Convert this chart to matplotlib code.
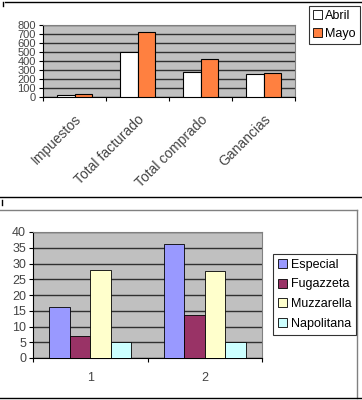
import numpy as np
import matplotlib
matplotlib.use("Agg")
import matplotlib.pyplot as plt
from matplotlib.lines import Line2D
from matplotlib.patches import Patch

plt.rcParams['font.family'] = ['Liberation Sans', 'DejaVu Sans']

# top chart data
categories = ["Impuestos", "Total facturado", "Total comprado", "Ganancias"]
abril = [22, 505, 280, 258]
mayo = [33, 719, 420, 268]

# bottom chart data
groups = ["1", "2"]
especial = [16.2, 36.3]
fugazzeta = [7.0, 13.8]
muzzarella = [27.9, 27.6]
napolitana = [5, 5]

W, H = 362, 400
fig = plt.figure(figsize=(W / 100, H / 100), dpi=100)

def fx(x):
    return x / W

def fy(y):
    return 1 - y / H

grid_col = "#303030"
bg = "#c0c0c0"
txt = "#444444"

# ---------- top chart ----------
ax1 = fig.add_axes([fx(43), fy(97), fx(295) - fx(43), fy(25) - fy(97)])
ax1.set_facecolor(bg)
x = np.arange(len(categories))
bw = 0.27
ax1.bar(x - bw / 2, abril, bw, color="white", edgecolor="black", linewidth=0.8, zorder=3)
ax1.bar(x + bw / 2, mayo, bw, color="#ff8040", edgecolor="black", linewidth=0.8, zorder=3)
ax1.set_xlim(-0.5, len(categories) - 0.5)
ax1.set_ylim(0, 800)
ax1.set_yticks(range(0, 801, 100))
ax1.yaxis.grid(True, color=grid_col, linewidth=1, zorder=0)
ax1.set_axisbelow(True)
ax1.set_xticks(np.arange(-0.5, len(categories), 1))
ax1.set_xticklabels([])
ax1.set_xticks(x, minor=True)
ax1.set_xticklabels(categories, minor=True, rotation=45, ha="right", va="top",
                    rotation_mode="anchor", fontsize=10, color=txt)
ax1.tick_params(axis="x", which="minor", length=0, pad=11)
ax1.tick_params(axis="x", which="major", direction="out", length=3, width=0.8)
ax1.tick_params(axis="y", direction="out", length=3, width=0.8, labelsize=8,
                labelcolor=txt, pad=2)
ax1.spines["top"].set_color("#808080")
ax1.spines["right"].set_color("#808080")
ax1.spines["left"].set_color("black")
ax1.spines["bottom"].set_color("black")

h1 = [Patch(facecolor="white", edgecolor="black", linewidth=0.6),
      Patch(facecolor="#ff8040", edgecolor="black", linewidth=0.6)]
leg1 = fig.legend(h1, ["Abril", "Mayo"], loc="upper left",
                  bbox_to_anchor=(fx(309), fy(6)), fontsize=9, frameon=True,
                  fancybox=False, edgecolor="black", handlelength=0.7,
                  handleheight=0.7, handletextpad=0.3, borderpad=0.3,
                  labelspacing=0.5, borderaxespad=0)
leg1.get_frame().set_linewidth(0.8)

# ---------- bottom chart ----------
ax2 = fig.add_axes([fx(33), fy(358), fx(262) - fx(33), fy(232) - fy(358)])
ax2.set_facecolor(bg)
g = np.arange(len(groups))
bw2 = 0.18
series = [especial, fugazzeta, muzzarella, napolitana]
names = ["Especial", "Fugazzeta", "Muzzarella", "Napolitana"]
cols = ["#9999ff", "#993366", "#ffffcc", "#ccffff"]
for i, (vals, c) in enumerate(zip(series, cols)):
    ax2.bar(g + (i - 1.5) * bw2, vals, bw2, color=c, edgecolor="black",
            linewidth=0.6, zorder=3)
ax2.set_xlim(-0.5, len(groups) - 0.5)
ax2.set_ylim(0, 40)
ax2.set_yticks(range(0, 41, 5))
ax2.yaxis.grid(True, color=grid_col, linewidth=1, zorder=0)
ax2.set_axisbelow(True)
ax2.set_xticks(np.arange(-0.5, len(groups), 1))
ax2.set_xticklabels([])
ax2.set_xticks(g, minor=True)
ax2.set_xticklabels(groups, minor=True, fontsize=9, color=txt)
ax2.tick_params(axis="x", which="minor", length=0, pad=10)
ax2.tick_params(axis="x", which="major", direction="out", length=3, width=0.8)
ax2.tick_params(axis="y", direction="out", length=3, width=0.8, labelsize=9,
                labelcolor=txt, pad=2)
ax2.spines["top"].set_color("#808080")
ax2.spines["right"].set_color("#808080")

h2 = [Patch(facecolor=c, edgecolor="black", linewidth=0.6) for c in cols]
leg2 = fig.legend(h2, names, loc="upper left",
                  bbox_to_anchor=(fx(273), fy(254)), fontsize=9, frameon=True,
                  fancybox=False, edgecolor="black", handlelength=0.7,
                  handleheight=0.7, handletextpad=0.3, borderpad=0.4,
                  labelspacing=0.6, borderaxespad=0)
leg2.get_frame().set_linewidth(0.8)

# ---------- chart borders ----------
def line(x0, y0, x1, y1, c="black", lw=1.0):
    fig.add_artist(Line2D([fx(x0), fx(x1)], [fy(y0), fy(y1)], color=c, linewidth=lw))

line(5, 1.5, 362, 1.5)
line(3, 2, 3, 6)
line(0, 196.5, 362, 196.5)
line(0, 210, 357, 210, c="#808080")
line(357, 210, 357, 398, c="#808080")
line(0, 398, 362, 398)
line(1.5, 200, 1.5, 205)

fig.savefig("out.png", dpi=100)
